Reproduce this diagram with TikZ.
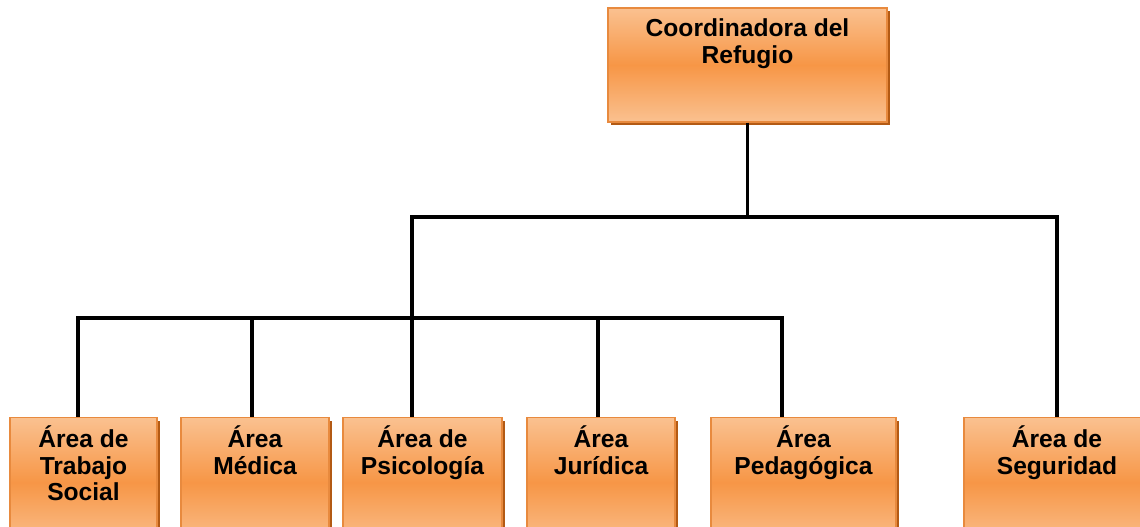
\documentclass[tikz,border=0pt]{standalone}
\usepackage{fontspec}
\setmainfont{Liberation Sans}
\usetikzlibrary{shadows}

\definecolor{orangelight}{HTML}{FAC190}
\definecolor{orangemid}{HTML}{F79646}
\definecolor{orangeline}{HTML}{E88A3E}
\definecolor{orangeshadow}{HTML}{B35A14}

\begin{document}
\begin{tikzpicture}[
    unit/.style={draw=orangeline, line width=0.6pt, top color=orangelight, bottom color=orangelight, middle color=orangemid,
      drop shadow={shadow xshift=0.06cm, shadow yshift=-0.06cm, fill=orangeshadow, opacity=1}},
    unittext/.style={anchor=north, align=center, inner xsep=0pt, inner ysep=0.22cm,
      font=\fontsize{14}{15.3}\selectfont\bfseries, text=black},
    areatext/.style={unittext, inner ysep=0.16cm},
    topunit/.style={unit, minimum width=5.58cm, minimum height=2.28cm},
    areaunit/.style={unit, anchor=north, minimum height=2.6cm},
    connector/.style={line width=2.2pt, black}
  ]
    \path[use as bounding box, clip] (0,0) rectangle (22.8,-10.54);

    % Coordinación
    \node[topunit, label={[unittext]north:Coordinadora del\\Refugio}] (coord) at (14.95,-1.3) {};

    % Áreas
    \node[areaunit, minimum width=2.94cm, label={[areatext]north:Área de\\Trabajo\\Social}] (trabajo) at (1.67,-8.34) {};
    \node[areaunit, minimum width=2.96cm, label={[areatext]north:Área\\Médica}] (medica) at (5.10,-8.34) {};
    \node[areaunit, minimum width=3.18cm, label={[areatext]north:Área de\\Psicología}] (psico) at (8.45,-8.34) {};
    \node[areaunit, minimum width=2.96cm, label={[areatext]north:Área\\Jurídica}] (juridica) at (12.02,-8.34) {};
    \node[areaunit, minimum width=3.70cm, label={[areatext]north:Área\\Pedagógica}] (pedagogica) at (16.07,-8.34) {};
    \node[areaunit, minimum width=3.72cm, label={[areatext]north:Área de\\Seguridad}] (seguridad) at (21.14,-8.34) {};

    % Conectores
    \coordinate (bus1w) at (8.24,-4.34);
    \coordinate (bus1e) at (21.14,-4.34);
    \coordinate (bus2w) at (1.56,-6.36);
    \coordinate (bus2e) at (15.64,-6.36);
    \draw[connector] (coord.south) -- (coord.south |- bus1w);
    \draw[connector, line cap=rect] (bus1w) -- (bus1e);
    \draw[connector] (bus1e) -- (seguridad.north);
    \draw[connector, line cap=rect] (bus2w) -- (bus2e);
    \draw[connector] (bus1w) -- (bus1w |- psico.north);
    \foreach \x/\n in {1.56/trabajo, 5.04/medica, 11.96/juridica, 15.64/pedagogica} {
      \coordinate (drop-\n) at (\x,-6.36);
      \draw[connector] (drop-\n) -- (drop-\n |- \n.north);
    }
\end{tikzpicture}
\end{document}
